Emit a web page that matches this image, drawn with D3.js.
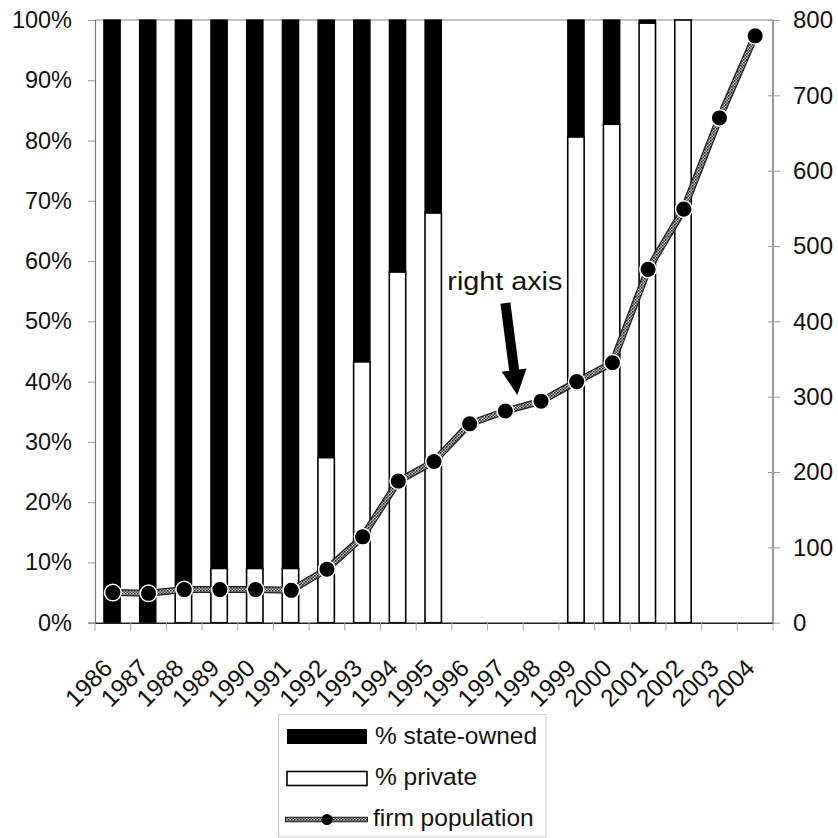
<!DOCTYPE html>
<html>
<head>
<meta charset="utf-8">
<script src="https://cdn.jsdelivr.net/npm/d3@7"></script>
<style>
  html, body { margin: 0; padding: 0; background: #fff; }
  svg { display: block; font-family: "Liberation Sans", Arial, Helvetica, sans-serif; }
</style>
</head>
<body>
<svg id="chart" width="838" height="838"></svg>
<script>
// ---- data ----
const years = ["1986","1987","1988","1989","1990","1991","1992","1993","1994","1995",
               "1996","1997","1998","1999","2000","2001","2002","2003","2004"];
const privatePct    = [0, 0, 5, 9, 9, 9, 27.4, 43.3, 58.2, 68, null, null, null, 80.6, 82.7, 99.5, 100, null, null];
const stateOwnedPct = [100, 100, 95, 91, 91, 91, 72.6, 56.7, 41.8, 32, null, null, null, 19.4, 17.3, 0.5, 0, null, null];
const firmPopulation = [40, 39, 44, 44, 44, 43, 71, 114, 188, 214, 264, 281, 294, 320, 345, 469, 549, 670, 779];
const leftTicks = [0, 10, 20, 30, 40, 50, 60, 70, 80, 90, 100];
const rightTicks = [0, 100, 200, 300, 400, 500, 600, 700, 800];
const legendItems = ["% state-owned", "% private", "firm population"];
const annotationText = "right axis";
const annotationYear = "1997";

// ---- layout ----
const W = 838, H = 838;
const m = { left: 95, right: 65, top: 20, bottom: 215.3 };
const iw = W - m.left - m.right, ih = H - m.top - m.bottom;

const svg = d3.select("#chart");
const defs = svg.append("defs");
const pat = defs.append("pattern").attr("id", "checker")
  .attr("patternUnits", "userSpaceOnUse").attr("width", 3).attr("height", 3);
pat.append("rect").attr("width", 3).attr("height", 3).attr("fill", "#bdbdbd");
pat.append("rect").attr("width", 1.5).attr("height", 1.5).attr("fill", "#111");
pat.append("rect").attr("x", 1.5).attr("y", 1.5).attr("width", 1.5).attr("height", 1.5).attr("fill", "#444");

const g = svg.append("g").attr("transform", `translate(${m.left},${m.top})`);

const x = d3.scaleBand().domain(years).range([0, iw]).padding(0);
const yL = d3.scaleLinear().domain([0, 100]).range([ih, 0]);
const yR = d3.scaleLinear().domain([0, 800]).range([ih, 0]);
const bw = x.bandwidth() * 0.46;
const xc = d => x(d) + x.bandwidth() / 2;

// frame (top and right borders)
g.append("line").attr("x1", 0).attr("x2", iw).attr("y1", 0).attr("y2", 0)
  .attr("stroke", "#888").attr("stroke-width", 1.2);
g.append("line").attr("x1", iw).attr("x2", iw).attr("y1", 0).attr("y2", ih)
  .attr("stroke", "#555").attr("stroke-width", 1.2);

// bars
const barData = years.map((yr, i) => ({ yr, p: privatePct[i], s: stateOwnedPct[i] }))
  .filter(d => d.p !== null);
const bars = g.append("g");
bars.selectAll("rect.priv").data(barData).join("rect")
  .attr("class", "priv")
  .attr("x", d => xc(d.yr) - bw / 2 - 0.8).attr("width", bw)
  .attr("y", d => yL(d.p)).attr("height", d => yL(0) - yL(d.p))
  .attr("fill", "#fff").attr("stroke", "#000").attr("stroke-width", 1.6);
bars.selectAll("rect.state").data(barData.filter(d => d.s > 0)).join("rect")
  .attr("class", "state")
  .attr("x", d => xc(d.yr) - bw / 2 - 0.8).attr("width", bw)
  .attr("y", d => yL(d.p + d.s)).attr("height", d => yL(d.p) - yL(d.p + d.s))
  .attr("fill", "#000").attr("stroke", "#000").attr("stroke-width", 1.2);

// left axis
const axL = g.append("g").call(d3.axisLeft(yL).tickValues(leftTicks).tickSize(7).tickFormat(d => d + "%"));
axL.select(".domain").attr("stroke", "#777").attr("stroke-width", 1.2);
axL.selectAll(".tick line").attr("stroke", "#999");
axL.selectAll("text").attr("font-size", 23.5).attr("fill", "#111").attr("x", -23)
  .attr("font-family", "Liberation Sans, Arial, sans-serif");

// right axis
const axR = g.append("g").attr("transform", `translate(${iw},0)`)
  .call(d3.axisRight(yR).tickValues(rightTicks).tickSize(7));
axR.select(".domain").remove();
axR.selectAll(".tick line").attr("stroke", "#999").attr("x1", -5);
axR.selectAll("text").attr("font-size", 24).attr("fill", "#111").attr("x", 20)
  .attr("font-family", "Liberation Sans, Arial, sans-serif");

// bottom axis
const axB = g.append("g").attr("transform", `translate(0,${ih})`)
  .call(d3.axisBottom(x).tickSize(0).tickFormat(""));
axB.select(".domain").attr("stroke", "#222").attr("stroke-width", 1.6);
axB.selectAll(".tick").remove();
g.append("g").selectAll("line").data(years.concat(["end"])).join("line")
  .attr("x1", (d, i) => i * x.step()).attr("x2", (d, i) => i * x.step())
  .attr("y1", ih).attr("y2", ih + 8).attr("stroke", "#aaa");
g.append("g").selectAll("text").data(years).join("text")
  .attr("transform", d => `translate(${xc(d) + 1},${ih + 47}) rotate(-45)`)
  .attr("text-anchor", "end").attr("font-size", 24.5).attr("fill", "#111")
  .text(d => d);

// firm population line (right axis)
const lineGen = d3.line().x((d, i) => xc(years[i])).y(d => yR(d));
g.append("path").datum(firmPopulation).attr("d", lineGen)
  .attr("fill", "none").attr("stroke", "#222").attr("stroke-width", 7);
g.append("path").datum(firmPopulation).attr("d", lineGen)
  .attr("fill", "none").attr("stroke", "url(#checker)").attr("stroke-width", 4.5);
g.append("g").selectAll("circle").data(firmPopulation).join("circle")
  .attr("cx", (d, i) => xc(years[i])).attr("cy", d => yR(d)).attr("r", 8.3)
  .attr("fill", "#000").attr("stroke", "#fff").attr("stroke-width", 1.5);

// annotation
const ai = years.indexOf(annotationYear);
const tip = [xc(annotationYear) + 12, yR(firmPopulation[ai]) - 16];
const start = [tip[0] - 12, tip[1] - 92];
(function drawArrow() {
  const dx = tip[0] - start[0], dy = tip[1] - start[1];
  const L = Math.hypot(dx, dy), ux = dx / L, uy = dy / L, nx = -uy, ny = ux;
  const hl = 25, sw = 5, hw = 12.5;
  const b = [tip[0] - ux * hl, tip[1] - uy * hl];
  const pts = [
    [start[0] + nx * sw, start[1] + ny * sw],
    [b[0] + nx * sw, b[1] + ny * sw],
    [b[0] + nx * hw, b[1] + ny * hw],
    tip,
    [b[0] - nx * hw, b[1] - ny * hw],
    [b[0] - nx * sw, b[1] - ny * sw],
    [start[0] - nx * sw, start[1] - ny * sw]
  ];
  g.append("polygon").attr("points", pts.map(p => p.join(",")).join(" ")).attr("fill", "#000");
})();
g.append("text").attr("x", start[0] - 58).attr("y", start[1] - 13)
  .attr("font-size", 25.5).attr("fill", "#111")
  .attr("textLength", 115).attr("lengthAdjust", "spacingAndGlyphs")
  .text(annotationText);

// legend
const lg = svg.append("g");
lg.append("rect").attr("x", 278.5).attr("y", 714.5).attr("width", 267.5).attr("height", 122.5)
  .attr("fill", "#fff").attr("stroke", "#ccc").attr("stroke-width", 1);
lg.append("rect").attr("x", 287).attr("y", 729).attr("width", 80).attr("height", 15).attr("fill", "#000");
lg.append("rect").attr("x", 287).attr("y", 771.5).attr("width", 80).attr("height", 14)
  .attr("fill", "#fff").attr("stroke", "#000").attr("stroke-width", 1.6);
lg.append("line").attr("x1", 285).attr("x2", 368).attr("y1", 819.5).attr("y2", 819.5)
  .attr("stroke", "#222").attr("stroke-width", 5.5);
lg.append("line").attr("x1", 286).attr("x2", 367).attr("y1", 819.5).attr("y2", 819.5)
  .attr("stroke", "url(#checker)").attr("stroke-width", 3.5);
lg.append("circle").attr("cx", 327).attr("cy", 819.5).attr("r", 5.5).attr("fill", "#000");
const ly = [744, 785, 826];
lg.selectAll("text.lt").data(legendItems).join("text").attr("class", "lt")
  .attr("x", (d, i) => i === 2 ? 373 : 375).attr("y", (d, i) => ly[i])
  .attr("font-size", 24.5).attr("fill", "#111").text(d => d);
</script>
</body>
</html>
